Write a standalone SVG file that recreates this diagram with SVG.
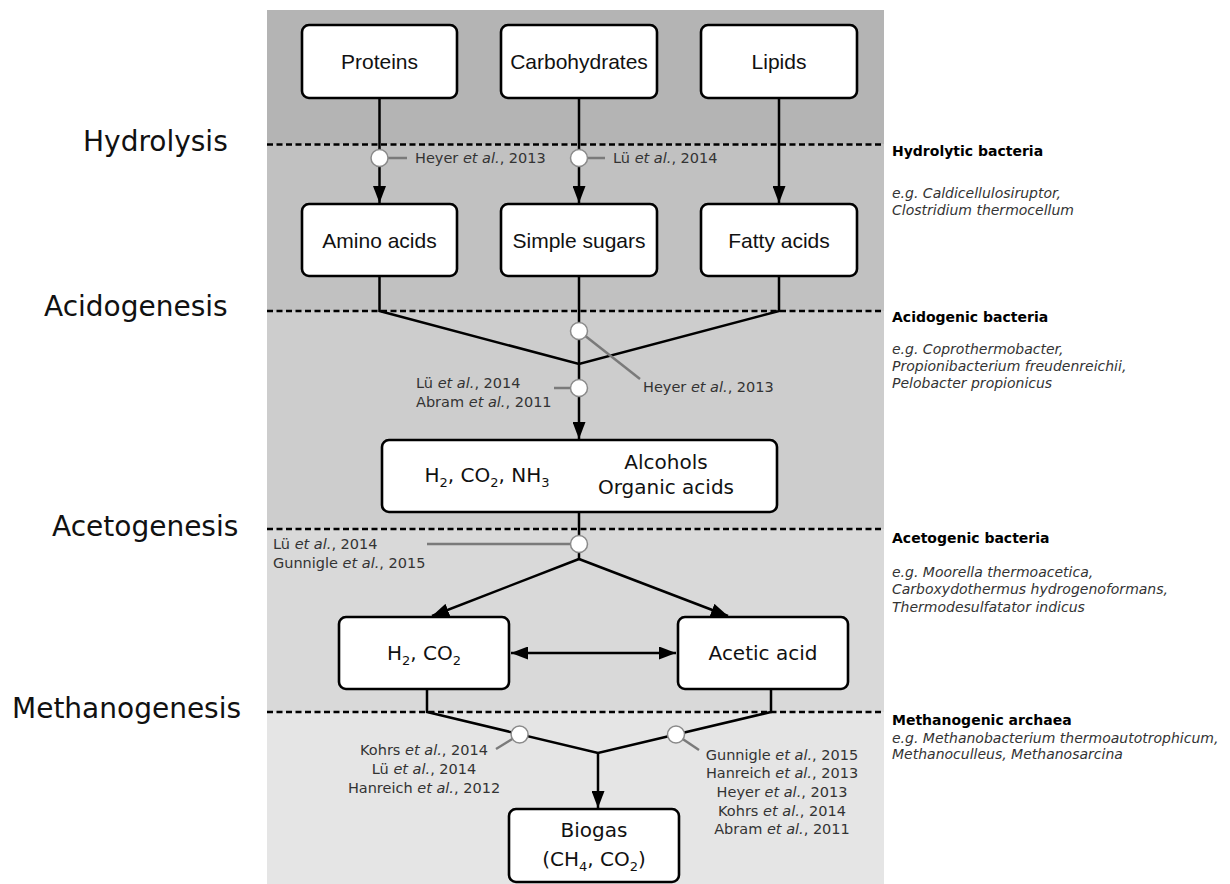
<svg xmlns="http://www.w3.org/2000/svg" width="1230" height="884" viewBox="0 0 1230 884">
<style>
.box{fill:#fff;stroke:#000;stroke-width:2.6}
.con{fill:none;stroke:#000;stroke-width:2.5}
.dash{stroke:#000;stroke-width:2.6;stroke-dasharray:6 3.5}
.lead{stroke:#7a7a7a;stroke-width:2.5}
.circ{fill:#fff;stroke:#8a8a8a;stroke-width:1.5}
.stage{font-family:"DejaVu Sans",sans-serif;font-size:28px;fill:#111}
.t1{font-family:"Liberation Sans",Arial,sans-serif;font-size:21px;fill:#111;text-anchor:middle}
.t2{font-family:"DejaVu Sans",sans-serif;font-size:20px;fill:#111}
.ref{font-family:"DejaVu Sans",sans-serif;font-size:14.5px;fill:#333}
.hd{font-family:"DejaVu Sans",sans-serif;font-size:14px;font-weight:bold;fill:#000}
.sp{font-family:"DejaVu Sans",sans-serif;font-size:14px;font-style:italic;fill:#333}
.i{font-style:italic}
</style>
<defs>
<marker id="ah" viewBox="0 0 17 13" refX="17" refY="6.5" markerWidth="17" markerHeight="13" markerUnits="userSpaceOnUse" orient="auto-start-reverse">
<path d="M0,0 L17,6.5 L0,13 z" fill="#000"/>
</marker>
</defs>
<rect width="1230" height="884" fill="#fff"/>
<g id="bands">
<rect x="267" y="10" width="617" height="134" fill="#b4b4b4"/>
<rect x="267" y="144" width="617" height="167" fill="#c1c1c1"/>
<rect x="267" y="311" width="617" height="218" fill="#cdcdcd"/>
<rect x="267" y="529" width="617" height="183" fill="#d9d9d9"/>
<rect x="267" y="712" width="617" height="172" fill="#e5e5e5"/>
</g>
<g id="dashes">
<line class="dash" x1="267" y1="144.5" x2="884" y2="144.5"/>
<line class="dash" x1="267" y1="311" x2="884" y2="311"/>
<line class="dash" x1="267" y1="529" x2="884" y2="529"/>
<line class="dash" x1="267" y1="712" x2="884" y2="712"/>
</g>
<g id="stages">
<text class="stage" x="83" y="151">Hydrolysis</text>
<text class="stage" x="44" y="315.5">Acidogenesis</text>
<text class="stage" x="52" y="536">Acetogenesis</text>
<text class="stage" x="12" y="718">Methanogenesis</text>
</g>
<g id="connectors">
<line class="con" x1="379.5" y1="98" x2="379.5" y2="203" marker-end="url(#ah)"/>
<line class="con" x1="579" y1="98" x2="579" y2="203" marker-end="url(#ah)"/>
<line class="con" x1="779" y1="98" x2="779" y2="203" marker-end="url(#ah)"/>
<polyline class="con" points="379.5,276 379.5,311 579,364 779,311 779,276"/>
<line class="con" x1="579" y1="276" x2="579" y2="439" marker-end="url(#ah)"/>
<line class="con" x1="579" y1="512" x2="579" y2="559"/>
<line class="con" x1="579" y1="559" x2="432" y2="616" marker-end="url(#ah)"/>
<line class="con" x1="579" y1="559" x2="728" y2="616" marker-end="url(#ah)"/>
<line class="con" x1="511" y1="653" x2="676" y2="653" marker-start="url(#ah)" marker-end="url(#ah)"/>
<polyline class="con" points="427,689 427,712 598,753 771,712 771,689"/>
<line class="con" x1="598" y1="753" x2="598" y2="808" marker-end="url(#ah)"/>
</g>
<g id="refs">
<line class="lead" x1="379.5" y1="158" x2="407" y2="158"/>
<circle class="circ" cx="379.5" cy="158" r="8.5"/>
<text class="ref" x="415" y="163">Heyer <tspan class="i">et al.</tspan>, 2013</text>
<line class="lead" x1="579" y1="158" x2="605" y2="158"/>
<circle class="circ" cx="579" cy="158" r="8.5"/>
<text class="ref" x="613" y="163">Lü <tspan class="i">et al.</tspan>, 2014</text>
<line class="lead" x1="579" y1="331" x2="640" y2="379"/>
<circle class="circ" cx="579" cy="331" r="8.5"/>
<text class="ref" x="643" y="392">Heyer <tspan class="i">et al.</tspan>, 2013</text>
<line class="lead" x1="554" y1="388" x2="579" y2="388"/>
<circle class="circ" cx="579" cy="388" r="8.5"/>
<text class="ref" x="416" y="388">Lü <tspan class="i">et al.</tspan>, 2014</text>
<text class="ref" x="416" y="406.5">Abram <tspan class="i">et al.</tspan>, 2011</text>
<line class="lead" x1="427" y1="544" x2="579" y2="544"/>
<circle class="circ" cx="579" cy="544" r="8.5"/>
<text class="ref" x="273" y="549">Lü <tspan class="i">et al.</tspan>, 2014</text>
<text class="ref" x="273" y="567.5">Gunnigle <tspan class="i">et al.</tspan>, 2015</text>
<line class="lead" x1="519.6" y1="734.5" x2="496" y2="749"/>
<circle class="circ" cx="519.6" cy="734.5" r="8.5"/>
<line class="lead" x1="676" y1="734.5" x2="699" y2="750"/>
<circle class="circ" cx="676" cy="734.5" r="8.5"/>
<g text-anchor="middle">
<text class="ref" x="424" y="755">Kohrs <tspan class="i">et al.</tspan>, 2014</text>
<text class="ref" x="424" y="774">Lü <tspan class="i">et al.</tspan>, 2014</text>
<text class="ref" x="424" y="792.5">Hanreich <tspan class="i">et al.</tspan>, 2012</text>
<text class="ref" x="782" y="760">Gunnigle <tspan class="i">et al.</tspan>, 2015</text>
<text class="ref" x="782" y="778">Hanreich <tspan class="i">et al.</tspan>, 2013</text>
<text class="ref" x="782" y="796.5">Heyer <tspan class="i">et al.</tspan>, 2013</text>
<text class="ref" x="782" y="815.5">Kohrs <tspan class="i">et al.</tspan>, 2014</text>
<text class="ref" x="782" y="834">Abram <tspan class="i">et al.</tspan>, 2011</text>
</g>
</g>
<g id="proteins"><rect class="box" x="302" y="25" width="155" height="73" rx="7"/><text class="t1" x="379.5" y="69">Proteins</text></g>
<g id="carbohydrates"><rect class="box" x="501" y="25" width="156" height="73" rx="7"/><text class="t1" x="579" y="69">Carbohydrates</text></g>
<g id="lipids"><rect class="box" x="701" y="25" width="156" height="73" rx="7"/><text class="t1" x="779" y="69">Lipids</text></g>
<g id="amino"><rect class="box" x="302" y="204" width="155" height="72" rx="7"/><text class="t1" x="379.5" y="247.5">Amino acids</text></g>
<g id="sugars"><rect class="box" x="501" y="204" width="156" height="72" rx="7"/><text class="t1" x="579" y="247.5">Simple sugars</text></g>
<g id="fatty"><rect class="box" x="701" y="204" width="156" height="72" rx="7"/><text class="t1" x="779" y="247.5">Fatty acids</text></g>
<g id="intermediates"><rect class="box" x="382" y="440" width="395" height="72" rx="7"/>
<text class="t2" x="424.5" y="482">H<tspan font-size="13" dy="5">2</tspan><tspan dy="-5">, CO</tspan><tspan font-size="13" dy="5">2</tspan><tspan dy="-5">, NH</tspan><tspan font-size="13" dy="5">3</tspan></text>
<text class="t2" x="666" y="469" text-anchor="middle">Alcohols</text>
<text class="t2" x="666" y="494" text-anchor="middle">Organic acids</text></g>
<g id="h2co2"><rect class="box" x="339" y="617" width="170" height="72" rx="7"/>
<text class="t2" x="424" y="660" text-anchor="middle">H<tspan font-size="13" dy="5">2</tspan><tspan dy="-5">, CO</tspan><tspan font-size="13" dy="5">2</tspan></text></g>
<g id="acetic"><rect class="box" x="678" y="617" width="170" height="72" rx="7"/><text class="t2" x="763" y="660" text-anchor="middle">Acetic acid</text></g>
<g id="biogas"><rect class="box" x="509" y="809" width="170" height="73" rx="7"/>
<text class="t2" x="594" y="837" text-anchor="middle">Biogas</text>
<text class="t2" x="594" y="866" text-anchor="middle">(CH<tspan font-size="13" dy="5">4</tspan><tspan dy="-5">, CO</tspan><tspan font-size="13" dy="5">2</tspan><tspan dy="-5">)</tspan></text></g>
<g id="organisms">
<text class="hd" x="892" y="155.5">Hydrolytic bacteria</text>
<text class="sp" x="892" y="198">e.g. Caldicellulosiruptor,</text>
<text class="sp" x="892" y="215">Clostridium thermocellum</text>
<text class="hd" x="892" y="321.5">Acidogenic bacteria</text>
<text class="sp" x="892" y="354">e.g. Coprothermobacter,</text>
<text class="sp" x="892" y="371">Propionibacterium freudenreichii,</text>
<text class="sp" x="892" y="388">Pelobacter propionicus</text>
<text class="hd" x="892" y="543">Acetogenic bacteria</text>
<text class="sp" x="892" y="576.5">e.g. Moorella thermoacetica,</text>
<text class="sp" x="892" y="594">Carboxydothermus hydrogenoformans,</text>
<text class="sp" x="892" y="611.5">Thermodesulfatator indicus</text>
<text class="hd" x="892" y="725">Methanogenic archaea</text>
<text class="sp" x="892" y="743">e.g. Methanobacterium thermoautotrophicum,</text>
<text class="sp" x="892" y="759">Methanoculleus, Methanosarcina</text>
</g>
</svg>
